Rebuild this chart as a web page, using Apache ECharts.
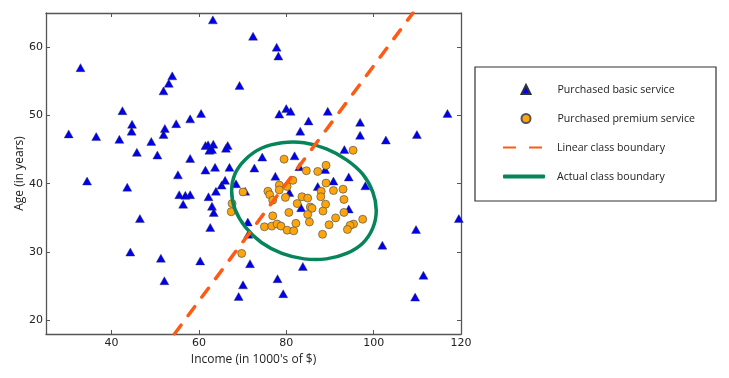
<!DOCTYPE html>
<html>
<head>
<meta charset="utf-8">
<script src="https://cdn.jsdelivr.net/npm/echarts@6/dist/echarts.min.js"></script>
<style>
  html, body { margin: 0; padding: 0; background: #fff; }
  #chart { width: 729px; height: 378px; }
</style>
</head>
<body>
<div id="chart"></div>
<script>
// ticks shown on the frame
const xTicks = [40, 60, 80, 100, 120];
const yTicks = [20, 30, 40, 50, 60];

// [income, age]
const basicService = [
  [63.2, 64.0], [72.4, 61.6], [32.9, 57.0], [53.9, 55.8], [53.1, 54.7], [51.9, 53.6],
  [69.3, 54.4], [42.5, 50.7], [60.5, 50.3], [58.0, 49.5], [54.8, 48.8], [44.7, 48.7],
  [44.6, 47.7], [52.2, 48.1], [51.9, 47.2], [30.2, 47.3], [36.5, 46.9], [41.8, 46.5],
  [49.1, 46.2], [45.8, 44.6], [50.5, 44.2], [61.5, 45.6], [62.1, 45.7], [63.3, 45.8],
  [62.4, 44.9], [63.0, 45.0], [66.6, 45.6], [66.2, 45.2], [58.0, 43.7], [61.5, 42.0],
  [63.7, 42.4], [67.0, 42.4], [72.7, 42.3], [55.2, 41.3], [77.8, 60.0], [78.2, 58.7],
  [80.0, 51.0], [78.4, 50.2], [81.0, 50.6], [89.5, 50.6], [85.1, 49.2], [96.9, 49.0],
  [116.9, 50.3], [83.2, 47.7], [96.9, 47.1], [102.8, 46.4], [109.9, 47.2], [93.3, 45.0],
  [74.5, 43.9], [81.9, 44.1], [83.0, 42.5], [88.9, 42.1], [77.5, 41.1], [94.3, 41.0],
  [34.4, 40.4], [43.6, 39.5], [55.5, 38.4], [56.9, 38.3], [58.0, 38.4], [56.4, 37.0],
  [62.2, 38.1], [63.9, 38.9], [65.2, 39.8], [66.0, 40.5], [68.5, 40.0], [63.0, 36.7],
  [63.4, 35.8], [46.5, 34.9], [62.6, 33.6], [71.2, 34.4], [71.3, 32.6], [44.3, 30.0],
  [51.3, 29.1], [60.3, 28.7], [71.7, 28.3], [52.1, 25.8], [70.1, 25.2], [69.1, 23.5],
  [70.6, 38.9], [90.8, 40.4], [87.2, 39.6], [98.1, 39.7], [80.7, 38.7], [83.4, 36.5],
  [94.3, 36.3], [119.5, 34.9], [109.7, 33.3], [102.0, 31.0], [83.8, 27.9], [78.0, 26.1],
  [111.4, 26.6], [79.3, 23.9], [109.5, 23.4]
];

const premiumService = [
  [95.3, 44.9], [79.5, 43.6], [84.6, 41.9], [87.2, 41.8], [89.1, 42.7], [67.6, 37.1],
  [67.4, 35.9], [69.8, 29.8], [70.1, 38.8], [75.8, 38.9], [76.2, 38.4], [78.4, 39.8],
  [78.4, 39.1], [80.2, 39.6], [81.5, 40.5], [79.8, 38.0], [89.1, 40.1], [88.0, 38.9],
  [90.8, 39.0], [93.0, 39.2], [87.9, 38.1], [83.6, 38.1], [84.9, 37.9], [82.5, 37.1],
  [85.5, 36.6], [85.9, 36.4], [89.0, 37.0], [93.2, 37.7], [88.4, 36.0], [80.6, 35.8],
  [84.9, 35.5], [93.2, 35.8], [76.9, 35.3], [91.3, 35.0], [97.5, 34.8], [85.3, 34.4],
  [82.2, 34.2], [89.8, 34.0], [95.4, 34.1], [94.6, 33.9], [94.0, 33.3], [75.0, 33.7],
  [76.7, 33.8], [77.9, 34.1], [78.8, 33.8], [80.2, 33.2], [81.7, 33.1], [88.3, 32.6],
  [76.9, 37.6]
];

// straight boundary, end points
const linearBoundary = [[54.4, 18], [109.0, 65]];

// closed boundary
const actualBoundary = [
  [100.6, 36.1], [99.8, 33.5], [97.5, 31.3], [93.8, 29.8], [89.2, 29.0], [84.1, 29.0],
  [79.0, 29.8], [74.3, 31.4], [70.7, 33.6], [68.3, 36.2], [67.5, 38.9], [68.3, 41.5],
  [70.7, 43.6], [74.3, 45.2], [79.0, 46.0], [84.1, 46.0], [89.2, 45.1], [93.8, 43.5],
  [97.5, 41.4], [99.8, 38.8]
];

const ORANGE = '#ff5a14';
const GREEN = '#06855a';

const frame = { show: true, onZero: false, lineStyle: { color: '#555', width: 1.3 } };
const tickFont = { fontFamily: 'DejaVu Sans', fontSize: 11, color: '#222' };
const nameFont = { fontFamily: 'Open Sans', fontSize: 12, color: '#222' };
const legendFont = { fontFamily: 'Open Sans', fontSize: 10.6, color: '#222', lineHeight: 15 };

function xAxisFor(pos, withLabels) {
  return {
    type: 'value', min: 25, max: 120, position: pos,
    axisLine: frame,
    axisTick: { show: true, inside: true, length: 4, customValues: xTicks, lineStyle: { color: '#555' } },
    axisLabel: Object.assign({ show: withLabels, customValues: xTicks, margin: 4 }, tickFont),
    splitLine: { show: false }
  };
}
function yAxisFor(pos, withLabels) {
  return {
    type: 'value', min: 18, max: 65, position: pos,
    axisLine: frame,
    axisTick: { show: true, inside: true, length: 4, customValues: yTicks, lineStyle: { color: '#555' } },
    axisLabel: Object.assign({ show: withLabels, customValues: yTicks, margin: 3 }, tickFont),
    splitLine: { show: false }
  };
}

const xBottom = xAxisFor('bottom', true);
xBottom.name = "Income (in 1000's of $)";
xBottom.nameLocation = 'middle';
xBottom.nameGap = 17;
xBottom.nameTextStyle = nameFont;

const yLeft = yAxisFor('left', true);
yLeft.name = 'Age (in years)';
yLeft.nameLocation = 'middle';
yLeft.nameGap = 20;
yLeft.nameMoveOverlap = false;
yLeft.nameTextStyle = nameFont;

const chart = echarts.init(document.getElementById('chart'), null, { renderer: 'canvas' });
chart.setOption({
  animation: false,
  backgroundColor: '#fff',
  grid: { left: 46, top: 13, right: 268, bottom: 44, containLabel: false },
  xAxis: [xBottom, xAxisFor('top', false)],
  yAxis: [yLeft, yAxisFor('right', false)],
  graphic: [{
    type: 'rect', silent: true,
    shape: { x: 475, y: 67, width: 241, height: 134 },
    style: { fill: 'none', stroke: '#333', lineWidth: 1.2 }
  }],
  legend: [
    {
      orient: 'vertical', left: 520.5, top: 82, padding: 0,
      itemWidth: 9, itemHeight: 9, itemGap: 14,
      textStyle: Object.assign({ padding: [0, 0, 0, 22] }, legendFont),
      data: [
        { name: 'Purchased basic service', icon: 'triangle' },
        { name: 'Purchased premium service', icon: 'circle' }
      ]
    },
    {
      orient: 'vertical', left: 502, top: 140, padding: 0,
      itemWidth: 42, itemHeight: 4, itemGap: 14,
      textStyle: Object.assign({ padding: [0, 0, 0, 7] }, legendFont),
      data: [
        { name: 'Linear class boundary', itemStyle: { opacity: 0 }, lineStyle: { type: [13, 13], cap: 'butt' } },
        { name: 'Actual class boundary' }
      ]
    }
  ],
  series: [
    {
      name: 'Purchased basic service', type: 'scatter', symbol: 'triangle', symbolSize: [9, 8],
      itemStyle: { color: '#0000f0', borderColor: '#333', borderWidth: 0.4, opacity: 1 },
      data: basicService, silent: true, z: 2
    },
    {
      name: 'Purchased premium service', type: 'scatter', symbol: 'circle', symbolSize: 8,
      itemStyle: { color: '#ffa50a', borderColor: '#555', borderWidth: 0.7, opacity: 1 },
      data: premiumService, silent: true, z: 3
    },
    {
      name: 'Linear class boundary', type: 'line', symbol: 'none', showSymbol: false,
      lineStyle: { color: ORANGE, width: 3.5, type: [11, 12], cap: 'round' },
      itemStyle: { color: ORANGE },
      data: linearBoundary, silent: true, z: 4
    },
    {
      name: 'Actual class boundary', type: 'custom', silent: true, z: 4,
      itemStyle: { color: GREEN },
      data: actualBoundary,
      renderItem: function (params, api) {
        if (params.dataIndex !== 0) return null;
        const pts = actualBoundary.map(function (p) { return api.coord(p); });
        return {
          type: 'polygon',
          shape: { points: pts, smooth: 0.34 },
          style: { fill: 'none', stroke: GREEN, lineWidth: 3.5 }
        };
      }
    }
  ]
});
</script>
</body>
</html>
